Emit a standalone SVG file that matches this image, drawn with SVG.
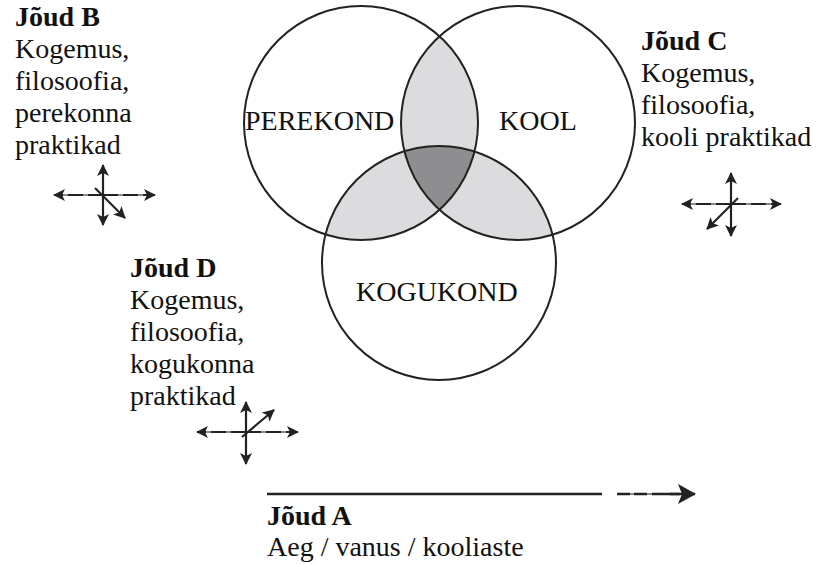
<svg xmlns="http://www.w3.org/2000/svg" width="817" height="564" viewBox="0 0 817 564">
  <style>
    text { font-family: "Liberation Serif", "Times New Roman", serif; font-size: 28px; fill: #111; }
    .b { font-weight: bold; }
    .ring { fill: none; stroke: #222; stroke-width: 2; }
    .ax { stroke: #222; stroke-width: 2.2; fill: none; }
    .gap { stroke: #8a8a8a; stroke-width: 2; fill: none; }
    .dash { stroke: #222; stroke-width: 2.2; fill: none; stroke-dasharray: 15 5; }
  </style>
  <defs>
    <marker id="ah" viewBox="0 0 12 12" refX="11" refY="6" markerWidth="12" markerHeight="12" markerUnits="userSpaceOnUse" orient="auto">
      <path d="M0,0 L12,6 L0,12 L3,6 Z" fill="#222"/>
    </marker>
    <marker id="ahBig" viewBox="0 0 18 20" refX="17" refY="10" markerWidth="18" markerHeight="20" markerUnits="userSpaceOnUse" orient="auto">
      <path d="M0,0 L18,10 L0,20 L4,10 Z" fill="#222"/>
    </marker>
    <clipPath id="c1"><circle cx="361" cy="123" r="117"/></clipPath>
    <clipPath id="c2"><circle cx="518" cy="123" r="117"/></clipPath>
    <clipPath id="c3"><circle cx="439" cy="263" r="117"/></clipPath>
  </defs>

  <!-- Venn diagram: shaded overlaps first, outlines on top -->
  <g id="venn">
    <circle cx="518" cy="123" r="117" fill="#dcdcde" clip-path="url(#c1)"/>
    <circle cx="439" cy="263" r="117" fill="#dcdcde" clip-path="url(#c1)"/>
    <circle cx="439" cy="263" r="117" fill="#dcdcde" clip-path="url(#c2)"/>
    <g clip-path="url(#c1)">
      <circle cx="518" cy="123" r="117" fill="#8e8e90" clip-path="url(#c3)"/>
    </g>
    <g id="perekond">
      <circle class="ring" cx="361" cy="123" r="117"/>
      <text x="245" y="130">PEREKOND</text>
    </g>
    <g id="kool">
      <circle class="ring" cx="518" cy="123" r="117"/>
      <text x="499" y="130">KOOL</text>
    </g>
    <g id="kogukond">
      <circle class="ring" cx="439" cy="263" r="117"/>
      <text x="356" y="301">KOGUKOND</text>
    </g>
  </g>

  <!-- Force labels -->
  <g id="joud-b">
    <text class="b" x="15" y="26">Jõud B</text>
    <text x="15" y="58">Kogemus,</text>
    <text x="15" y="90">filosoofia,</text>
    <text x="15" y="122">perekonna</text>
    <text x="15" y="154">praktikad</text>
  </g>
  <g id="joud-c">
    <text class="b" x="641" y="50">Jõud C</text>
    <text x="641" y="82">Kogemus,</text>
    <text x="641" y="114">filosoofia,</text>
    <text x="641" y="146">kooli praktikad</text>
  </g>
  <g id="joud-d">
    <text class="b" x="130" y="277">Jõud D</text>
    <text x="130" y="309">Kogemus,</text>
    <text x="130" y="341">filosoofia,</text>
    <text x="130" y="373">kogukonna</text>
    <text x="130" y="405">praktikad</text>
  </g>
  <g id="joud-a">
    <text class="b" x="267" y="525">Jõud A</text>
    <text x="267" y="556">Aeg / vanus / kooliaste</text>
  </g>

  <!-- Direction crosses and time axis -->
  <g id="connectors">
    <!-- cross B -->
    <g>
      <line class="gap" x1="56" y1="195" x2="152" y2="195"/>
      <line class="dash" x1="103" y1="195" x2="54" y2="195" marker-end="url(#ah)"/>
      <line class="dash" x1="103" y1="195" x2="155" y2="195" marker-end="url(#ah)"/>
      <line class="ax" x1="103" y1="195" x2="103" y2="165" marker-end="url(#ah)"/>
      <line class="ax" x1="103" y1="195" x2="103" y2="225" marker-end="url(#ah)"/>
      <line class="ax" x1="95" y1="188" x2="125" y2="218" marker-end="url(#ah)"/>
    </g>
    <!-- cross C -->
    <g>
      <line class="gap" x1="685" y1="204" x2="778" y2="204"/>
      <line class="dash" x1="731" y1="204" x2="682" y2="204" marker-end="url(#ah)"/>
      <line class="dash" x1="731" y1="204" x2="781" y2="204" marker-end="url(#ah)"/>
      <line class="ax" x1="731" y1="204" x2="731" y2="173" marker-end="url(#ah)"/>
      <line class="ax" x1="731" y1="204" x2="731" y2="236" marker-end="url(#ah)"/>
      <line class="ax" x1="738" y1="198" x2="707" y2="229" marker-end="url(#ah)"/>
    </g>
    <!-- cross D -->
    <g>
      <line class="gap" x1="200" y1="432" x2="296" y2="432"/>
      <line class="dash" x1="246" y1="432" x2="197" y2="432" marker-end="url(#ah)"/>
      <line class="dash" x1="246" y1="432" x2="298" y2="432" marker-end="url(#ah)"/>
      <line class="ax" x1="246" y1="432" x2="246" y2="402" marker-end="url(#ah)"/>
      <line class="ax" x1="246" y1="432" x2="246" y2="464" marker-end="url(#ah)"/>
      <line class="ax" x1="242" y1="437" x2="274" y2="410" marker-end="url(#ah)"/>
    </g>
    <!-- time axis: solid span, then a dashed run ending in a large arrowhead -->
    <line x1="267" y1="494" x2="602" y2="494" stroke="#222" stroke-width="2.5"/>
    <line class="gap" x1="617" y1="494" x2="680" y2="494"/>
    <path d="M617,494 h13 m4,0 h13 m5,0 h28" stroke="#222" stroke-width="2.5" fill="none"/>
    <line x1="670" y1="494" x2="695" y2="494" stroke="#222" stroke-width="2.5" marker-end="url(#ahBig)"/>
  </g>
</svg>
